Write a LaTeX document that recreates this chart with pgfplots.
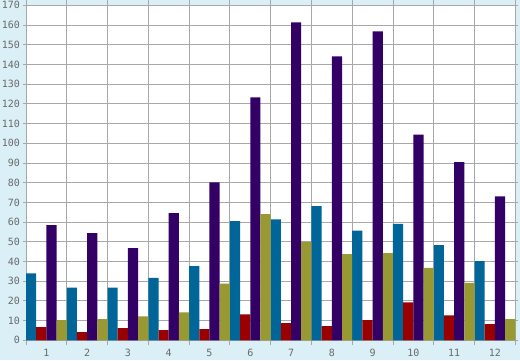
\documentclass[border=0pt]{standalone}
\usepackage{fontspec}
\setmainfont{DejaVu Sans Mono}
\usepackage{pgfplots}
\pgfplotsset{compat=1.18}
\definecolor{bg}{HTML}{DAEFF6}
\definecolor{gridc}{HTML}{A8A8A8}
\definecolor{labc}{HTML}{6A6A6A}
\definecolor{cblue}{HTML}{006699}
\definecolor{cred}{HTML}{990000}
\definecolor{cpurple}{HTML}{330066}
\definecolor{colive}{HTML}{999933}
\begin{document}
\begin{tikzpicture}
\fill[bg] (0pt,0pt) rectangle (520pt,360pt);
\useasboundingbox (0pt,0pt) rectangle (520pt,360pt);
\begin{axis}[
  at={(26pt,19.7pt)}, anchor=south west,
  scale only axis, width=489.3pt, height=335pt,
  xmin=0.5, xmax=12.5, ymin=0, ymax=170,
  ytick={0,10,...,170},
  xtick={1,...,12},
  minor xtick={0.5,1.5,...,12.5},
  axis background/.style={fill=white},
  axis line style={gridc, line width=0.8pt},
  ymajorgrids, xminorgrids,
  major grid style={gridc, line width=0.8pt},
  minor grid style={gridc, line width=0.8pt},
  tick align=outside,
  major tick length=3pt, minor tick length=5pt,
  major x tick style={draw=none},
  minor x tick style={gridc, line width=0.8pt},
  major y tick style={gridc, line width=0.8pt},
  /pgf/number format/assume math mode=true,
  ticklabel style={font=\fontsize{10}{10}\selectfont, text=labc},
  yticklabel style={xshift=0.5pt},
  xticklabel style={yshift=-2.5pt},
  bar width=10.19pt,
]
\addplot[ybar, bar shift=-15.285pt, fill=cblue, draw=none] coordinates {
(1,34) (2,26.7) (3,26.7) (4,31.7) (5,37.7) (6,60.5) (7,61.4) (8,68.1) (9,55.6) (10,59.1) (11,48.3) (12,40.2)};
\addplot[ybar, bar shift=-5.095pt, fill=cred, draw=none] coordinates {
(1,6.7) (2,4.2) (3,6.2) (4,5.2) (5,5.7) (6,13.2) (7,8.7) (8,7.2) (9,10.2) (10,19.2) (11,12.7) (12,8.2)};
\addplot[ybar, bar shift=5.095pt, fill=cpurple, draw=none] coordinates {
(1,58.4) (2,54.4) (3,46.8) (4,64.5) (5,80.2) (6,123.3) (7,161.3) (8,144.1) (9,156.8) (10,104.4) (11,90.4) (12,73.1)};
\addplot[ybar, bar shift=15.285pt, fill=colive, draw=none] coordinates {
(1,10.2) (2,10.7) (3,12.2) (4,14.2) (5,28.7) (6,64) (7,50) (8,43.7) (9,44.2) (10,36.7) (11,29.2) (12,10.7)};
\end{axis}
\end{tikzpicture}
\end{document}
